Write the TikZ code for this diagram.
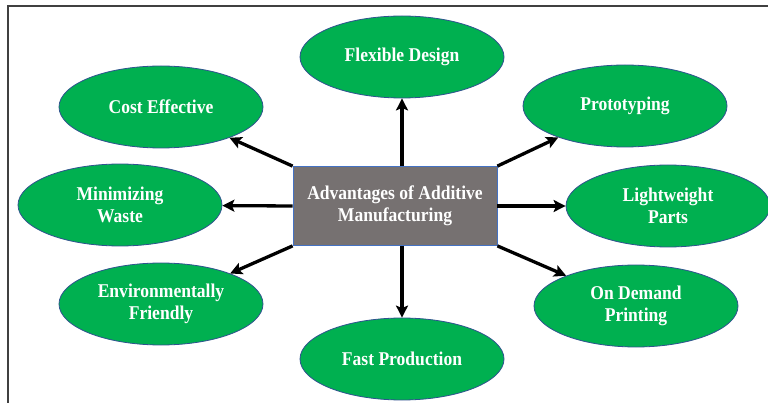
\documentclass[tikz,border=0pt]{standalone}
\usepackage{fontspec}
\setmainfont{Liberation Serif}
\newfontfamily\labelfont{Liberation Serif}[FakeStretch=0.9]
\usetikzlibrary{shapes.geometric,arrows.meta}
\definecolor{offgreen}{HTML}{00B050}
\definecolor{ellborder}{HTML}{2F528F}
\definecolor{boxgray}{HTML}{767171}
\definecolor{boxborder}{HTML}{4472C4}
\definecolor{framegray}{HTML}{404040}
\tikzset{
  adv/.style={ellipse, draw=ellborder, line width=0.8pt, fill=offgreen,
    minimum width=204pt, minimum height=82pt, inner sep=0pt,
    text=white, font=\labelfont\fontsize{19.5}{22}\selectfont\bfseries, align=center},
  hub/.style={rectangle, draw=boxborder, line width=0.8pt, fill=boxgray,
    minimum width=204pt, minimum height=79pt, inner sep=0pt,
    text=white, font=\labelfont\fontsize{19.5}{22}\selectfont\bfseries, align=center},
  link/.style={line width=3.3pt, -{Stealth[length=12pt,width=12pt,inset=2.5pt]}},
  frameline/.style={draw=framegray, line width=2pt}
}
\begin{document}
\begin{tikzpicture}[x=1pt,y=-1pt]
\useasboundingbox (0,0) rectangle (768,403);
\fill[white] (0,0) rectangle (768,403);
\coordinate (f1) at (768,6.5);
\coordinate (f2) at (7.5,6.5);
\coordinate (f3) at (7.5,403);
\draw[frameline] (f1) -- (f2) -- (f3);

\node[hub] (c) at (395,206) {Advantages of Additive\\Manufacturing};

\node[adv] (fd) at (402,57) {Flexible Design};
\node[adv] (ce) at (161,107) {Cost Effective};
\node[adv] (pr) at (625,106) {Prototyping};
\node[adv] (mw) at (120,205) {Minimizing\\Waste};
\node[adv] (lp) at (668,206) {Lightweight\\Parts};
\node[adv] (ef) at (161,304) {Environmentally\\Friendly};
\node[adv] (od) at (636,306) {On Demand\\Printing};
\node[adv] (fp) at (402,359) {Fast Production};

\draw[link] (fd |- c.north) -- (fd);
\draw[link] (fp |- c.south) -- (fp);
\draw[link] (c.west) -- (mw);
\draw[link] (c.east) -- (lp);
\draw[link] (c.north west) -- (ce);
\draw[link] (c.north east) -- (pr);
\draw[link] (c.south west) -- (ef);
\draw[link] (c.south east) -- (od);
\end{tikzpicture}
\end{document}
